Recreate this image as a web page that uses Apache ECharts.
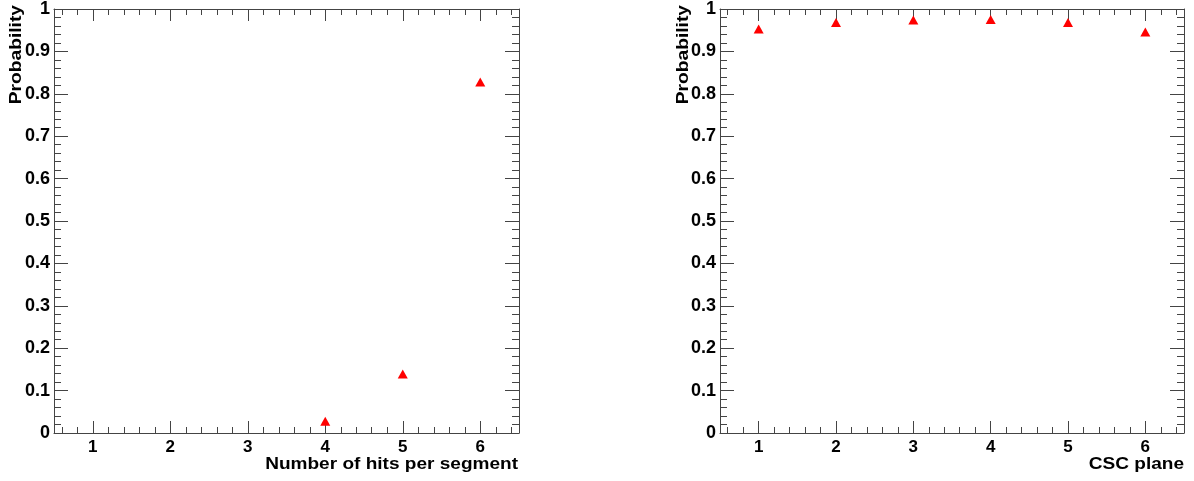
<!DOCTYPE html>
<html>
<head>
<meta charset="utf-8">
<script src="https://cdn.jsdelivr.net/npm/echarts@6/dist/echarts.min.js"></script>
<style>html,body{margin:0;padding:0;background:#fff;}#c{width:1194px;height:481px;}</style>
</head>
<body>
<div id="c"></div>
<script>
// ---- data ----
var hitsCategories = [4, 5, 6];
var hitsProbability = [0.028, 0.139, 0.828];
var planeCategories = [1, 2, 3, 4, 5, 6];
var planeProbability = [0.953, 0.968, 0.974, 0.975, 0.968, 0.946];
var xTickLabels = [1, 2, 3, 4, 5, 6];
var yTickLabels = [0, 0.1, 0.2, 0.3, 0.4, 0.5, 0.6, 0.7, 0.8, 0.9, 1];
var xTitles = ['Number of hits per segment', 'CSC plane'];
var yTitle = 'Probability';

// ---- styling / layout ----
var FONT = '"Liberation Sans", Arial, sans-serif';
var LINE = '#444';
var RED = '#ff0000';
var xMinor = [];
for (var i = 3; i <= 32; i++) xMinor.push(Math.round(i * 2) / 10);
var yMinor = [];
for (var j = 0; j <= 50; j++) yMinor.push(Math.round(j * 2) / 100);

var grids = [
  {left: 54, top: 5, width: 465, height: 428},
  {left: 720, top: 5, width: 464, height: 428}
];

var xAxes = [], yAxes = [];
function xAx(g, pos, len, vals, labels, line) {
  return {
    gridIndex: g, type: 'value', min: 0.5, max: 6.5, position: pos,
    axisLine: {show: line, onZero: false, lineStyle: {color: LINE, width: 1}},
    axisTick: {show: true, inside: true, length: len, customValues: vals, lineStyle: {color: LINE, width: 1}},
    axisLabel: labels ? {show: true, customValues: xTickLabels, margin: 6, color: '#000',
      fontFamily: FONT, fontWeight: 'bold', fontSize: 17, formatter: function (v) { return String(v); }} : {show: false},
    splitLine: {show: false}
  };
}
function yAx(g, pos, len, vals, labels, line) {
  return {
    gridIndex: g, type: 'value', min: 0, max: 1, position: pos,
    axisLine: {show: line, onZero: false, lineStyle: {color: LINE, width: 1}},
    axisTick: {show: true, inside: true, length: len, customValues: vals, lineStyle: {color: LINE, width: 1}},
    axisLabel: labels ? {show: true, customValues: yTickLabels, margin: 4, color: '#000',
      fontFamily: FONT, fontWeight: 'bold', fontSize: 18,
      formatter: function (v) { return (v === 0 || v === 1) ? String(v) : v.toFixed(1); }} : {show: false},
    splitLine: {show: false}
  };
}
for (var g = 0; g < 2; g++) {
  xAxes.push(xAx(g, 'bottom', 12, xTickLabels, true, true));
  xAxes.push(xAx(g, 'bottom', 6, xMinor, false, false));
  xAxes.push(xAx(g, 'top', 12, xTickLabels, false, true));
  xAxes.push(xAx(g, 'top', 6, xMinor, false, false));
  yAxes.push(yAx(g, 'left', 14, yTickLabels, true, true));
  yAxes.push(yAx(g, 'left', 7, yMinor, false, false));
  yAxes.push(yAx(g, 'right', 14, yTickLabels, false, true));
  yAxes.push(yAx(g, 'right', 7, yMinor, false, false));
}

function pairs(xs, ys) { return xs.map(function (x, k) { return [x, ys[k]]; }); }

var graphics = [];
var titleRight = [518, 1184];
var yTitleX = [16, 683];
for (var t = 0; t < 2; t++) {
  graphics.push({type: 'text', x: titleRight[t], y: 464, scaleX: 1.12, style: {text: xTitles[t], align: 'right', verticalAlign: 'middle',
    font: 'bold 17px ' + FONT, fill: '#000'}});
  graphics.push({type: 'text', x: yTitleX[t], y: 5, rotation: Math.PI / 2, scaleX: 1.13, style: {text: yTitle, align: 'right', verticalAlign: 'middle',
    font: 'bold 17px ' + FONT, fill: '#000'}});
}

var chart = echarts.init(document.getElementById('c'), null, {renderer: 'canvas'});
chart.setOption({
  animation: false,
  backgroundColor: '#fff',
  grid: grids,
  xAxis: xAxes,
  yAxis: yAxes,
  graphic: graphics,
  series: [
    {type: 'scatter', xAxisIndex: 0, yAxisIndex: 0, symbol: 'triangle', symbolSize: [10, 9],
      itemStyle: {color: RED, opacity: 1}, data: pairs(hitsCategories, hitsProbability)},
    {type: 'scatter', xAxisIndex: 4, yAxisIndex: 4, symbol: 'triangle', symbolSize: [10, 9],
      itemStyle: {color: RED, opacity: 1}, data: pairs(planeCategories, planeProbability)}
  ]
});
</script>
</body>
</html>
